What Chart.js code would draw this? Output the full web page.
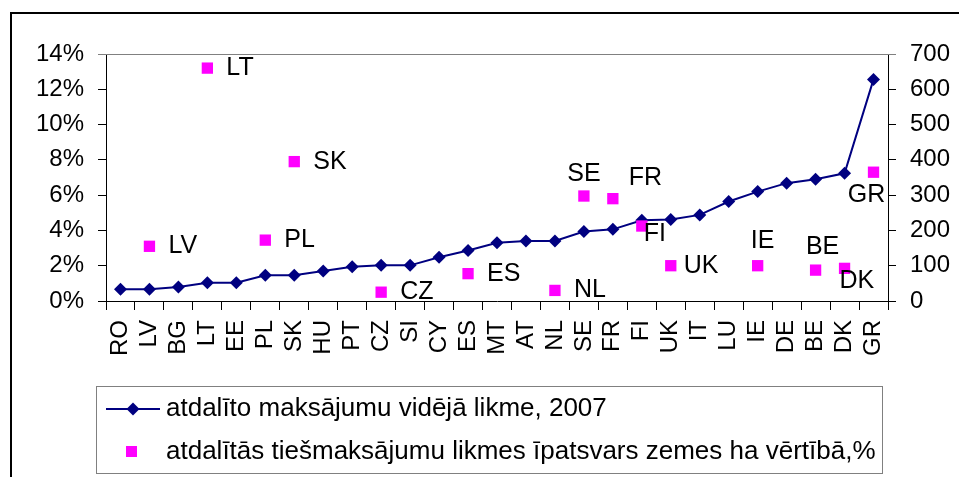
<!DOCTYPE html>
<html>
<head>
<meta charset="utf-8">
<script src="https://cdn.jsdelivr.net/npm/chart.js@4.4.1/dist/chart.umd.min.js"></script>
<style>
  body { margin: 0; background: #fff; }
  #chart { display: block; }
</style>
</head>
<body>
<canvas id="chart" width="959" height="477"></canvas>
<script>
// valstis
const categories = ["RO", "LV", "BG", "LT", "EE", "PL", "SK", "HU", "PT", "CZ", "SI", "CY", "ES", "MT",
  "AT", "NL", "SE", "FR", "FI", "UK", "IT", "LU", "IE", "DE", "BE", "DK", "GR"];

// atdalīto maksājumu vidējā likme, 2007 (labā ass)
const avgRate = [33, 33, 40, 52, 52, 73, 73, 85, 97, 101, 101, 124, 143, 165, 170, 170, 197, 203,
  229, 231, 244, 282, 310, 334, 345, 362, 628];

// īpatsvars zemes ha vērtībā, % (kreisā ass)
const landShare = [null, 3.1, null, 13.2, null, 3.45, 7.9, null, null, 0.5, null, null, 1.55, null,
  null, 0.6, 5.95, 5.8, 4.25, 2.0, null, null, 2.0, null, 1.75, 1.85, 7.3];

const leftTicks = [0, 2, 4, 6, 8, 10, 12, 14];
const rightTicks = [0, 100, 200, 300, 400, 500, 600, 700];

const seriesNames = [
  "atdalīto maksājumu vidējā likme, 2007",
  "atdalītās tiešmaksājumu likmes īpatsvars zemes ha vērtībā,%"
];

const NAVY = "#000080";
const MAGENTA = "#FF00FF";
const FONT = "'Liberation Sans', Arial, sans-serif";

// kur likt punktu nosaukumus attiecībā pret kvadrātu
const labelOffset = {
  LV: [19, 0, "left"], LT: [19, 0, "left"], PL: [19, 0, "left"], SK: [19, 0, "left"],
  CZ: [19, 0, "left"], ES: [19, 0, "left"], NL: [19, 0, "left"], UK: [13, 0, "left"],
  SE: [0, -22, "center"], FR: [16, -21, "left"], FI: [2, 8, "left"],
  IE: [5, -25, "center"], BE: [7, -23, "center"], DK: [-5, 13, "left"], GR: [-7, 23, "center"]
};

const extras = {
  id: "extras",
  beforeDraw(chart) {
    const ctx = chart.ctx;
    ctx.save();
    ctx.fillStyle = "#fff";
    ctx.fillRect(0, 0, chart.width, chart.height);
    ctx.restore();
  },
  afterDraw(chart) {
    const ctx = chart.ctx;
    const area = chart.chartArea;
    ctx.save();

    // augšējā robeža
    ctx.strokeStyle = "#808080";
    ctx.lineWidth = 1;
    ctx.beginPath();
    ctx.moveTo(area.left - 8, area.top + 0.5);
    ctx.lineTo(area.right + 8, area.top + 0.5);
    ctx.stroke();

    // punktu nosaukumi
    const meta = chart.getDatasetMeta(1);
    ctx.fillStyle = "#000";
    ctx.font = "25px " + FONT;
    ctx.textBaseline = "middle";
    meta.data.forEach((pt, i) => {
      if (landShare[i] == null) return;
      const off = labelOffset[categories[i]] || [19, 0, "left"];
      ctx.textAlign = off[2];
      ctx.fillText(categories[i], pt.x + off[0], pt.y + off[1]);
    });

    // leģenda
    ctx.strokeStyle = "#808080";
    ctx.lineWidth = 1;
    ctx.strokeRect(96.5, 386.5, 786, 87);
    ctx.strokeStyle = NAVY;
    ctx.lineWidth = 2;
    ctx.beginPath();
    ctx.moveTo(106, 409);
    ctx.lineTo(160, 409);
    ctx.stroke();
    ctx.fillStyle = NAVY;
    ctx.beginPath();
    ctx.moveTo(133, 402.5);
    ctx.lineTo(139.5, 409);
    ctx.lineTo(133, 415.5);
    ctx.lineTo(126.5, 409);
    ctx.closePath();
    ctx.fill();
    ctx.fillStyle = MAGENTA;
    ctx.fillRect(126, 446, 11, 11);
    ctx.fillStyle = "#000";
    ctx.textAlign = "left";
    ctx.font = "26px " + FONT;
    ctx.fillText(seriesNames[0], 166, 409);
    ctx.fillText(seriesNames[1], 166, 452);

    // ārējais rāmis
    ctx.strokeStyle = "#000";
    ctx.lineWidth = 2;
    ctx.strokeRect(11, 13, 1000, 1000);
    ctx.restore();
  }
};

const ctx = document.getElementById("chart").getContext("2d");
new Chart(ctx, {
  type: "line",
  data: {
    labels: categories,
    datasets: [
      {
        label: seriesNames[0],
        data: avgRate,
        yAxisID: "y1",
        borderColor: NAVY,
        backgroundColor: NAVY,
        borderWidth: 2,
        pointStyle: "rectRot",
        pointRadius: 6.5,
        pointBorderWidth: 0,
        tension: 0,
        order: 2
      },
      {
        label: seriesNames[1],
        data: landShare,
        yAxisID: "y",
        showLine: false,
        backgroundColor: MAGENTA,
        borderColor: MAGENTA,
        pointStyle: "rect",
        pointRadius: 8,
        pointBorderWidth: 0,
        order: 1
      }
    ]
  },
  options: {
    responsive: false,
    animation: false,
    devicePixelRatio: 1,
    layout: { padding: { top: 54, left: 0, right: 0, bottom: 0 } },
    plugins: { legend: { display: false }, tooltip: { enabled: false } },
    scales: {
      x: {
        offset: true,
        grid: { offset: true, drawOnChartArea: false, color: "#000", tickLength: 9 },
        border: { color: "#000", width: 1 },
        ticks: {
          autoSkip: false, maxRotation: 90, minRotation: 90, padding: 10,
          color: "#000", font: { family: FONT, size: 24 }
        },
        afterFit: (s) => { s.height = 176; }
      },
      y: {
        position: "left",
        min: leftTicks[0],
        max: leftTicks[leftTicks.length - 1],
        afterBuildTicks: (s) => { s.ticks = leftTicks.map((v) => ({ value: v })); },
        grid: { drawOnChartArea: false, color: "#000", tickLength: 8 },
        border: { color: "#000", width: 1 },
        ticks: {
          padding: 14, color: "#000", font: { family: FONT, size: 24 },
          callback: (v) => v + "%"
        },
        afterFit: (s) => { s.width = 106; }
      },
      y1: {
        position: "right",
        min: rightTicks[0],
        max: rightTicks[rightTicks.length - 1],
        afterBuildTicks: (s) => { s.ticks = rightTicks.map((v) => ({ value: v })); },
        grid: { drawOnChartArea: false, color: "#000", tickLength: 8 },
        border: { color: "#000", width: 1 },
        ticks: { padding: 14, color: "#000", font: { family: FONT, size: 24 } },
        afterFit: (s) => { s.width = 71; }
      }
    }
  },
  plugins: [extras]
});
</script>
</body>
</html>
